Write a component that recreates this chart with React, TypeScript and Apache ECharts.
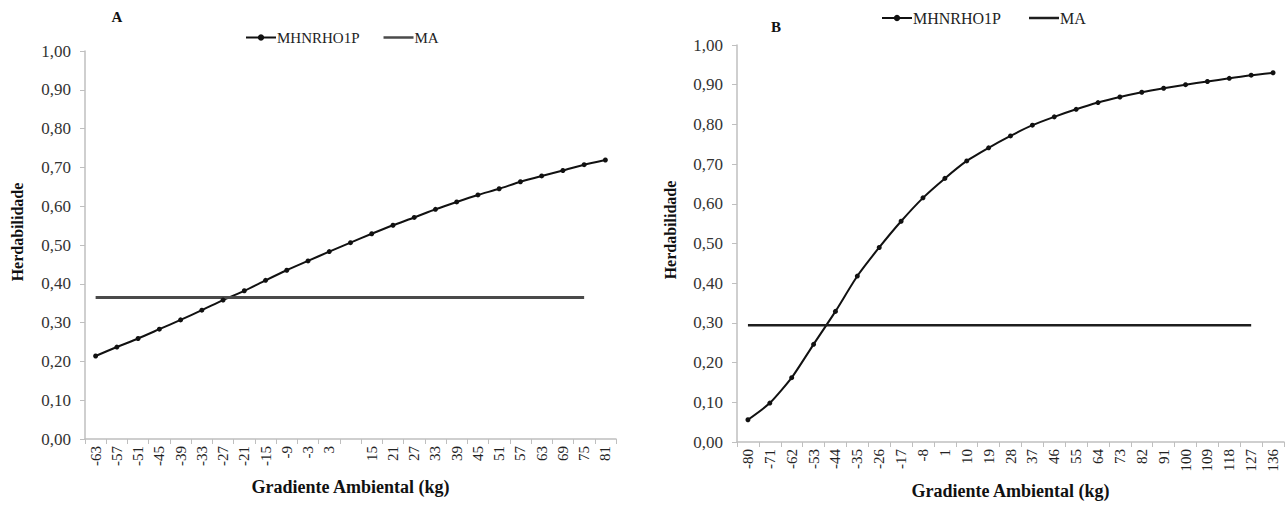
import React, { useEffect, useRef } from "react";
import * as echarts from "echarts";

const xLabelsA = ["-63","-57","-51","-45","-39","-33","-27","-21","-15","-9","-3","3","","15","21","27","33","39","45","51","57","63","69","75","81"];
const mhnA = [0.214,0.237,0.259,0.283,0.307,0.332,0.358,0.382,0.409,0.435,0.459,0.483,0.506,0.529,0.551,0.571,0.592,0.611,0.629,0.645,0.663,0.678,0.692,0.707,0.719];
const maA = [0.365,0.365,0.365,0.365,0.365,0.365,0.365,0.365,0.365,0.365,0.365,0.365,0.365,0.365,0.365,0.365,0.365,0.365,0.365,0.365,0.365,0.365,0.365,0.365,null];

const xLabelsB = ["-80","-71","-62","-53","-44","-35","-26","-17","-8","1","10","19","28","37","46","55","64","73","82","91","100","109","118","127","136"];
const mhnB = [0.056,0.098,0.162,0.246,0.329,0.418,0.490,0.556,0.615,0.664,0.708,0.741,0.771,0.798,0.819,0.838,0.855,0.869,0.881,0.891,0.900,0.908,0.916,0.924,0.930];
const maB = [0.294,0.294,0.294,0.294,0.294,0.294,0.294,0.294,0.294,0.294,0.294,0.294,0.294,0.294,0.294,0.294,0.294,0.294,0.294,0.294,0.294,0.294,0.294,0.294,null];

const yTicks = { min: 0, max: 1, interval: 0.1 };
const FONT = "Liberation Serif";
const LINE_ICON = "path://M0,0 L30,0 L30,2.5 L0,2.5 Z";

export default function App() {
  const ref = useRef<HTMLDivElement>(null);
  useEffect(() => {
    if (!ref.current) return;
    const chart = echarts.init(ref.current, undefined, { renderer: "svg" });
    const axisLineColor = "#bfbfbf";
    const mkX = (gi: number, data: string[], gap: number) => ({
      type: "category" as const,
      gridIndex: gi,
      data,
      boundaryGap: true,
      axisLine: { show: true, lineStyle: { color: axisLineColor, width: 1.5 } },
      axisTick: { show: true, alignWithLabel: false, length: 5, lineStyle: { color: axisLineColor } },
      axisLabel: { rotate: 90, interval: 0, margin: 7, fontSize: 15, fontFamily: FONT, color: "#222" },
      name: "Gradiente Ambiental (kg)",
      nameLocation: "middle" as const,
      nameGap: gap,
      nameTextStyle: { fontSize: 18, fontWeight: "bold" as const, fontFamily: FONT, color: "#111" },
      splitLine: { show: false },
    });
    const mkY = (gi: number) => ({
      type: "value" as const,
      gridIndex: gi,
      ...yTicks,
      axisLine: { show: true, lineStyle: { color: axisLineColor, width: 1.5 } },
      axisTick: { show: true, length: 5, lineStyle: { color: axisLineColor } },
      axisLabel: {
        fontSize: 17,
        fontFamily: FONT,
        color: "#333",
        margin: 14,
        formatter: (v: number) => v.toFixed(2).replace(".", ","),
      },
      splitLine: { show: false },
    });
    const lineSeries = (name: string, gi: number, data: (number | null)[], withMarker: boolean, color: string, width: number) => ({
      name,
      type: "line" as const,
      xAxisIndex: gi,
      yAxisIndex: gi,
      data,
      smooth: withMarker ? 0.2 : false,
      showSymbol: withMarker,
      symbol: withMarker ? "circle" : "none",
      symbolSize: 5,
      itemStyle: { color },
      lineStyle: { color, width },
      connectNulls: false,
    });
    const legendText = { fontSize: 15, fontFamily: FONT, color: "#222", padding: [0, 0, 0, -4] };
    chart.setOption({
      animation: false,
      textStyle: { fontFamily: FONT },
      grid: [
        { left: 85, right: 1287 - 616, top: 51, bottom: 505 - 439, containLabel: false },
        { left: 737, right: 3, top: 45, bottom: 505 - 442, containLabel: false },
      ],
      legend: [
        {
          left: 240,
          top: 25,
          itemWidth: 30,
          itemHeight: 8,
          itemGap: 24,
          textStyle: legendText,
          data: [
            { name: "MHNRHO1P" },
            { name: "MA", icon: LINE_ICON, itemStyle: { color: "#4a4a4a" } },
          ],
          selectedMode: false,
        },
        {
          left: 876,
          top: 5,
          itemWidth: 30,
          itemHeight: 8,
          itemGap: 28,
          textStyle: { ...legendText, fontSize: 16 },
          data: [
            { name: "MHNRHO1P B" },
            { name: "MA B", icon: LINE_ICON, itemStyle: { color: "#1e1e1e" } },
          ],
          formatter: (n: string) => n.replace(" B", ""),
          selectedMode: false,
        },
      ],
      xAxis: [mkX(0, xLabelsA, 39), mkX(1, xLabelsB, 40)],
      yAxis: [mkY(0), mkY(1)],
      series: [
        lineSeries("MHNRHO1P", 0, mhnA, true, "#111", 2),
        lineSeries("MA", 0, maA, false, "#4a4a4a", 3),
        lineSeries("MHNRHO1P B", 1, mhnB, true, "#111", 2),
        lineSeries("MA B", 1, maB, false, "#1e1e1e", 2.5),
      ],
      graphic: [
        { type: "text", x: 117, y: 17, style: { text: "A", fontSize: 15, fontWeight: "bold", fontFamily: FONT, fill: "#111", align: "center", verticalAlign: "middle" } },
        { type: "text", x: 776, y: 27, style: { text: "B", fontSize: 15, fontWeight: "bold", fontFamily: FONT, fill: "#111", align: "center", verticalAlign: "middle" } },
        { type: "text", x: 17, y: 232, rotation: Math.PI / 2, style: { text: "Herdabilidade", fontSize: 16, fontWeight: "bold", fontFamily: FONT, fill: "#111", align: "center", verticalAlign: "middle" } },
        { type: "text", x: 670, y: 230, rotation: Math.PI / 2, style: { text: "Herdabilidade", fontSize: 16, fontWeight: "bold", fontFamily: FONT, fill: "#111", align: "center", verticalAlign: "middle" } },
      ],
    });
    return () => chart.dispose();
  }, []);
  return <div ref={ref} style={{ position: "absolute", left: 0, top: 0, width: 1287, height: 505, background: "#fff" }} />;
}
